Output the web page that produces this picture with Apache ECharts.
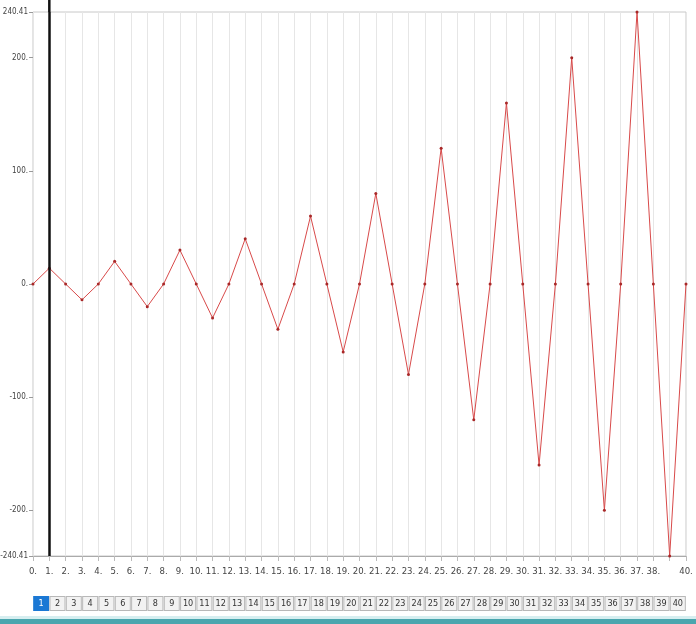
<!DOCTYPE html>
<html><head><meta charset="utf-8">
<script src="https://cdn.jsdelivr.net/npm/echarts@6/dist/echarts.min.js"></script>
<style>html,body{margin:0;padding:0;background:#fff}#c{width:696px;height:624px}</style>
</head><body><div id="c"></div>
<script>
const xValues = [0,1,2,3,4,5,6,7,8,9,10,11,12,13,14,15,16,17,18,19,20,21,22,23,24,25,26,27,28,29,30,31,32,33,34,35,36,37,38,39,40];
const yValues = [0,14,0,-14,0,20,0,-20,0,30,0,-30,0,40,0,-40,0,60,0,-60,0,80,0,-80,0,120,0,-120,0,160,0,-160,0,200,0,-200,0,240.41,0,-240.41,0];
const yTicks = [-240.41,-200,-100,0,100,200,240.41];
const tabLabels = ['1','2','3','4','5','6','7','8','9','10','11','12','13','14','15','16','17','18','19','20','21','22','23','24','25','26','27','28','29','30','31','32','33','34','35','36','37','38','39','40'];
const cursorX = 1;
const yMin = -240.41, yMax = 240.41;

const font = "'DejaVu Sans Condensed','Liberation Sans Narrow',sans-serif";
const chart = echarts.init(document.getElementById('c'), null, {renderer:'canvas'});
const fmt = v => (Math.abs(v - Math.round(v)) < 1e-9 ? Math.round(v) + '.' : String(v));

chart.setOption({
  animation: false,
  backgroundColor: '#fff',
  grid: [
    {left: 33, right: 10, top: 12, bottom: 68, show: true, borderColor: '#c8c8c8', borderWidth: 1, containLabel: false, outerBoundsMode: 'none'},
    {left: 33, right: 10, top: 596, height: 1, containLabel: false, outerBoundsMode: 'none'}
  ],
  xAxis: [
    {type: 'value', gridIndex: 0, min: 0, max: 40, interval: 1,
     axisLine: {show: true, onZero: false, lineStyle: {color: '#aaa'}},
     axisTick: {show: true, length: 5, lineStyle: {color: '#bbb'}},
     splitLine: {show: true, lineStyle: {color: '#e6e6e6'}},
     axisLabel: {color: '#444', fontFamily: font, fontSize: 9.5, margin: 11, hideOverlap: false,
       formatter: v => (v === 39 ? '' : fmt(v))}},
    {type: 'category', gridIndex: 1, data: tabLabels, boundaryGap: true,
     axisLine: {show: false}, axisTick: {show: false},
     axisLabel: {interval: 0, margin: 0, verticalAlign: 'top',
       formatter: (v, i) => (i === 0 ? '{sel|' + v + '}' : '{n|' + v + '}'),
       rich: {
         n: {width: 14, height: 13, align: 'center', lineHeight: 13, backgroundColor: '#f2f2f2', borderColor: '#b8b8b8', borderWidth: 1, color: '#333', fontFamily: font, fontSize: 9},
         sel: {width: 14, height: 13, align: 'center', lineHeight: 13, backgroundColor: '#1b78d4', borderColor: '#1b78d4', borderWidth: 1, color: '#fff', fontFamily: font, fontSize: 9}
       }}}
  ],
  yAxis: [
    {type: 'value', gridIndex: 0, min: yMin, max: yMax,
     axisLine: {show: false},
     axisTick: {show: true, length: 4, lineStyle: {color: '#999'}, customValues: yTicks},
     splitLine: {show: false},
     axisLabel: {color: '#444', fontFamily: font, fontSize: 8, margin: 5, customValues: yTicks, formatter: fmt}},
    {type: 'value', gridIndex: 1, show: false}
  ],
  series: [{
    type: 'line', xAxisIndex: 0, yAxisIndex: 0,
    data: xValues.map((x, i) => [x, yValues[i]]),
    lineStyle: {color: '#d84a4a', width: 1},
    itemStyle: {color: '#a82828'},
    symbol: 'circle', symbolSize: 3, showSymbol: true,
    markLine: {silent: true, symbol: 'none', label: {show: false},
      lineStyle: {color: '#111', width: 2.5, type: 'solid'},
      data: [{xAxis: cursorX}]}
  }]
});

const cursorTop = chart.convertToPixel({gridIndex: 0}, [cursorX, yMax]);
chart.setOption({graphic: [
  {type: 'line', shape: {x1: cursorTop[0], y1: 0, x2: cursorTop[0], y2: cursorTop[1]}, style: {stroke: '#111', lineWidth: 2.5}},
  {type: 'rect', shape: {x: 0, y: 616, width: 696, height: 3}, style: {fill: '#d6eef0'}},
  {type: 'rect', shape: {x: 0, y: 619, width: 696, height: 5}, style: {fill: '#4aa6ae'}}
]});
</script></body></html>
